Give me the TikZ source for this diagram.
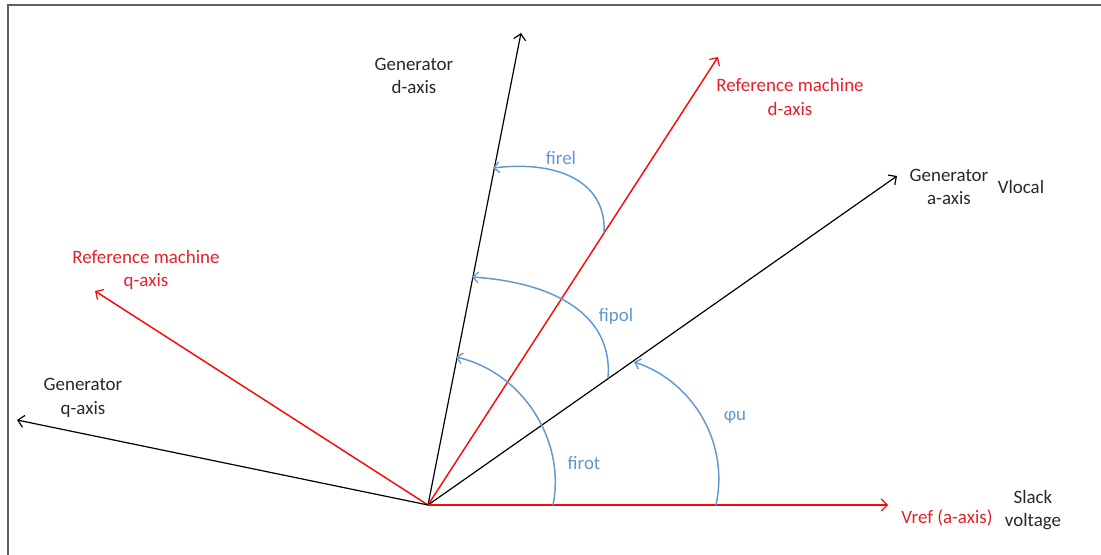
\documentclass[tikz,border=0pt]{standalone}
\usepackage{fontspec}
\setmainfont{Carlito}
\usetikzlibrary{arrows.meta}
\definecolor{axred}{RGB}{250,10,10}
\definecolor{txtred}{RGB}{228,32,40}
\definecolor{arcblue}{RGB}{96,152,210}
\definecolor{txtgray}{RGB}{40,40,40}
\definecolor{framegray}{RGB}{95,95,95}
\begin{document}
\begin{tikzpicture}[x=0.75pt,y=-0.75pt,
  axisarrow/.style={-{Straight Barb[length=4.5pt,width=9pt,line width=0.9pt]}},
  blackaxis/.style={axisarrow,draw=black,line width=0.9pt},
  redaxis/.style={axisarrow,draw=axred,line width=1.1pt},
  arcarrow/.style={-{Straight Barb[length=4pt,width=8pt,line width=1pt]},draw=arcblue,line width=1.1pt},
  lbl/.style={inner sep=0pt,align=center,font=\fontsize{14.2}{17.6}\selectfont},
  blacklbl/.style={lbl,text=txtgray},
  redlbl/.style={lbl,text=txtred},
  bluelbl/.style={lbl,text=arcblue}]
\useasboundingbox (0,0) rectangle (1101,555);
\draw[framegray,line width=1.2pt] (8,555) -- (8,5) -- (1101,5);

% origin and axis tips
\coordinate (O) at (428,505);
\coordinate (gd) at (521,33);
\coordinate (rd) at (718,57);
\coordinate (ga) at (897,176);
\coordinate (rq) at (95,291);
\coordinate (gq) at (17,420);
\coordinate (vr) at (888,505);

\draw[blackaxis] (O) -- (gd);
\draw[redaxis] (O) -- (rd);
\draw[blackaxis] (O) -- (ga);
\draw[redaxis] (O) -- (rq);
\draw[blackaxis] (O) -- (gq);
\draw[axisarrow,draw=axred,line width=2pt] (O) -- (vr);

% arc end points
\coordinate (firotS) at (553,505);
\coordinate (firotE) at (456,357);
\coordinate (phuS) at (716,505);
\coordinate (phuE) at (634,362);
\coordinate (fipolS) at (608,378);
\coordinate (fipolE) at (472,277);
\coordinate (firelS) at (604,233);
\coordinate (firelE) at (493,168);

\draw[arcarrow] (firotS) .. controls (566,440) and (522,372) .. (firotE);
\draw[arcarrow] (phuS) .. controls (730,440) and (690,380) .. (phuE);
\draw[arcarrow] (fipolS) .. controls (613,318) and (560,283) .. (fipolE);
\draw[arcarrow] (firelS) .. controls (607,183) and (560,160) .. (firelE);

% labels
\node[blacklbl] (lgd) at (414,76) {Generator\\d-axis};
\node[redlbl] (lrd) at (790,97) {Reference machine\\d-axis};
\node[blacklbl] (lga) at (949,187) {Generator\\a-axis};
\node[blacklbl] (lvl) at (1021,187) {Vlocal};
\node[redlbl] (lrq) at (146,270) {Reference machine\\q-axis};
\node[blacklbl] (lgq) at (83,398) {Generator\\q-axis};
\node[redlbl] (lvr) at (947,518) {Vref (a-axis)};
\node[blacklbl] (lsv) at (1033,510) {Slack\\voltage};
\node[bluelbl] (lfirel) at (561,158) {firel};
\node[bluelbl] (lfipol) at (616,316) {fipol};
\node[bluelbl] (lfirot) at (584,463) {firot};
\node[bluelbl] (lphu) at (735,417) {φu};
\end{tikzpicture}
\end{document}
